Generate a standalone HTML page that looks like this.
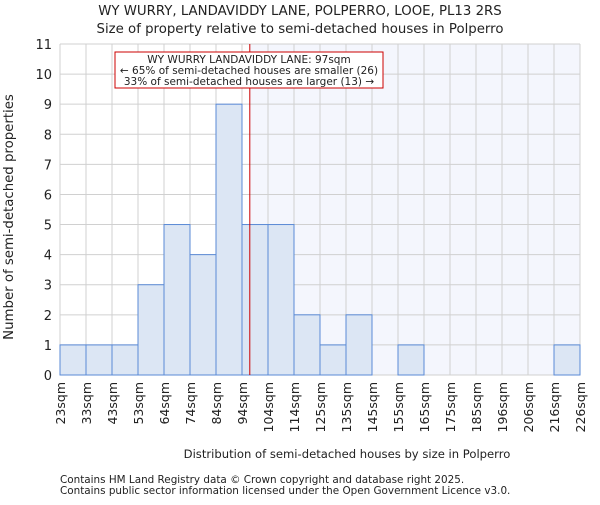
<!DOCTYPE html>
<html><head><meta charset="utf-8"><style>
body{margin:0;background:#fff}
svg text{font-family:"DejaVu Sans","Liberation Sans",sans-serif;fill:#222}
</style></head><body>
<svg width="600" height="500" xmlns="http://www.w3.org/2000/svg" id="c">
<text x="300" y="15" text-anchor="middle" font-size="13.3">WY WURRY, LANDAVIDDY LANE, POLPERRO, LOOE, PL13 2RS</text>
<text x="300" y="33" text-anchor="middle" font-size="13.3">Size of property relative to semi-detached houses in Polperro</text>
<text x="347" y="458" text-anchor="middle" font-size="11.6">Distribution of semi-detached houses by size in Polperro</text>
<text transform="translate(13,217) rotate(-90)" text-anchor="middle" font-size="13.3">Number of semi-detached properties</text>
<text x="60" y="483" font-size="10.4">Contains HM Land Registry data © Crown copyright and database right 2025.</text>
<text x="60" y="494" font-size="10.4">Contains public sector information licensed under the Open Government Licence v3.0.</text>
<g id="plot"></g>
</svg>
<script>
const categories=["23sqm","33sqm","43sqm","53sqm","64sqm","74sqm","84sqm","94sqm","104sqm","114sqm","125sqm","135sqm","145sqm","155sqm","165sqm","175sqm","185sqm","196sqm","206sqm","216sqm","226sqm"];
const values=[1,1,1,3,5,4,9,5,5,2,1,2,0,1,0,0,0,0,0,1];
const yTicks=[0,1,2,3,4,5,6,7,8,9,10,11];
const propertySize=97;
const binStart=7, binStartVal=94, binEndVal=104;
const annotation=["WY WURRY LANDAVIDDY LANE: 97sqm","← 65% of semi-detached houses are smaller (26)","33% of semi-detached houses are larger (13) →"];

const L=60,R=580,T=44,B=375,ymax=11,n=values.length,bw=(R-L)/n;
const x=i=>L+i*bw, y=v=>B-(B-T)*v/ymax;
const g=document.getElementById('plot'),NS="http://www.w3.org/2000/svg";
function mk(t,a,p){const e=document.createElementNS(NS,t);for(const k in a)e.setAttribute(k,a[k]);(p||g).appendChild(e);return e;}
const px=x(binStart+(propertySize-binStartVal)/(binEndVal-binStartVal));
let e=mk('rect',{x:px,y:T,width:R-px,height:B-T,fill:'#f4f6fd'});

for(let i=0;i<=n;i++){e=mk('line',{x1:x(i),x2:x(i),y1:T,y2:B,stroke:'#d0d0d0','stroke-width':1});
}
yTicks.forEach(t=>{e=mk('line',{x1:L,x2:R,y1:y(t),y2:y(t),stroke:'#d0d0d0','stroke-width':1});

e=mk('text',{x:L-8,y:y(t)+5,'text-anchor':'end','font-size':13});e.textContent=t;
});
values.forEach((v,i)=>{if(v<=0)return;e=mk('rect',{x:x(i),y:y(v),width:bw,height:B-y(v),fill:'#dce6f4',stroke:'#5a8ad6','stroke-width':1});
});
categories.forEach((c,i)=>{const xx=x(i);e=mk('text',{transform:`translate(${xx+5},382) rotate(-90)`,'text-anchor':'end','font-size':12.5});e.textContent=c;
});
e=mk('line',{x1:px,x2:px,y1:T,y2:B,stroke:'#c00','stroke-width':1});

e=mk('rect',{x:115,y:52,width:268,height:36,fill:'#fff',stroke:'#c00','stroke-width':1});

annotation.forEach((s,i)=>{e=mk('text',{x:249,y:63+i*11,'text-anchor':'middle','font-size':10.5});e.textContent=s;
});
</script>
</body></html>
